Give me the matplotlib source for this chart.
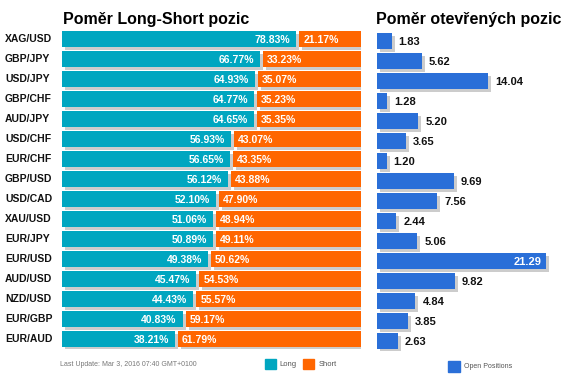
import numpy as np
import matplotlib.pyplot as plt
from matplotlib.patches import Rectangle

pairs = ['XAG/USD', 'GBP/JPY', 'USD/JPY', 'GBP/CHF', 'AUD/JPY', 'USD/CHF', 'EUR/CHF', 'GBP/USD',
         'USD/CAD', 'XAU/USD', 'EUR/JPY', 'EUR/USD', 'AUD/USD', 'NZD/USD', 'EUR/GBP', 'EUR/AUD']
long_pct = [78.83, 66.77, 64.93, 64.77, 64.65, 56.93, 56.65, 56.12,
            52.10, 51.06, 50.89, 49.38, 45.47, 44.43, 40.83, 38.21]
short_pct = [21.17, 33.23, 35.07, 35.23, 35.35, 43.07, 43.35, 43.88,
             47.90, 48.94, 49.11, 50.62, 54.53, 55.57, 59.17, 61.79]
open_pos = [1.83, 5.62, 14.04, 1.28, 5.20, 3.65, 1.20, 9.69,
            7.56, 2.44, 5.06, 21.29, 9.82, 4.84, 3.85, 2.63]

W, H = 566, 378
teal = '#00a6c0'
orange = '#ff6600'
blue = '#2a6fd8'
shadow = '#cccccc'
font = 'Liberation Sans'
plt.rcParams['font.family'] = [font, 'DejaVu Sans']

fig = plt.figure(figsize=(W / 100, H / 100), dpi=100)


def box(x0, y0, x1, y1):
    # pixel box (top-left origin) -> figure fraction rect
    return [x0 / W, 1 - y1 / H, (x1 - x0) / W, (y1 - y0) / H]


def fx(x):
    return x / W


def fy(y):
    return 1 - y / H


n = len(pairs)
y = np.arange(n)

# left chart: long / short ratio
ax1 = fig.add_axes(box(62, 29, 361, 349))
ax1.set_xlim(0, 100)
ax1.set_ylim(n - 0.5, -0.5)
ax1.axis('off')
pxu = 299 / 100.0
sx, sy = 3 / pxu, 3 / 20.0
bh = 0.8
gap = 0.5
lp = np.array(long_pct)
ax1.barh(y + sy, lp - gap, left=sx, height=bh, color=shadow, zorder=1)
ax1.barh(y + sy, 100 - lp - gap, left=lp + gap + sx, height=bh, color=shadow, zorder=1)
ax1.barh(y, lp - gap, left=0, height=bh, color=teal, zorder=2)
ax1.barh(y, 100 - lp - gap, left=lp + gap, height=bh, color=orange, zorder=2)
for i in range(n):
    ax1.text(long_pct[i] - gap - 6 / pxu, i + 0.03, '%.2f%%' % long_pct[i], color='white',
             ha='right', va='center', fontsize=7.5, fontweight='bold', zorder=3)
    ax1.text(long_pct[i] + gap + 4 / pxu, i + 0.03, '%.2f%%' % short_pct[i], color='white',
             ha='left', va='center', fontsize=7.5, fontweight='bold', zorder=3)
    fig.text(fx(5), fy(39 + 20 * i), pairs[i], ha='left', va='center',
             fontsize=7.5, fontweight='bold', color='#111111')

# right chart: open positions
ax2 = fig.add_axes(box(377, 31, 566, 351))
pxr = 169 / 21.29
ax2.set_xlim(0, 189 / pxr)
ax2.set_ylim(n - 0.5, -0.5)
ax2.axis('off')
op = np.array(open_pos)
ax2.barh(y + 3 / 20.0, op, left=3 / pxr, height=bh, color=shadow, zorder=1)
ax2.barh(y, op, height=bh, color=blue, zorder=2)
big = max(open_pos)
for i in range(n):
    if open_pos[i] == big:
        ax2.text(open_pos[i] - 4 / pxr, i + 0.03, '%.2f' % open_pos[i], color='white',
                 ha='right', va='center', fontsize=8, fontweight='bold', zorder=3)
    else:
        ax2.text(open_pos[i] + 7 / pxr, i + 0.05, '%.2f' % open_pos[i], color='#111111',
                 ha='left', va='center', fontsize=8, fontweight='bold', zorder=3)

# titles
fig.text(fx(63), fy(24), 'Poměr Long-Short pozic', fontsize=11.5, fontweight='bold',
         ha='left', va='baseline')
fig.text(fx(376), fy(24), 'Poměr otevřených pozic', fontsize=11.5, fontweight='bold',
         ha='left', va='baseline')

# footer
fig.text(fx(60), fy(364), 'Last Update: Mar 3, 2016 07:40 GMT+0100', fontsize=5,
         color='#777777', ha='left', va='center')
fig.patches.append(Rectangle((fx(265), fy(369)), 11 / W, 10 / H, color=teal,
                             transform=fig.transFigure, figure=fig))
fig.text(fx(279), fy(365), 'Long', fontsize=5.5, color='#555555', ha='left', va='center')
fig.patches.append(Rectangle((fx(303), fy(369)), 11 / W, 10 / H, color=orange,
                             transform=fig.transFigure, figure=fig))
fig.text(fx(319), fy(365), 'Short', fontsize=5.5, color='#555555', ha='left', va='center')
fig.patches.append(Rectangle((fx(448), fy(372)), 12 / W, 11 / H, color=blue,
                             transform=fig.transFigure, figure=fig))
fig.text(fx(464), fy(367), 'Open Positions', fontsize=5, color='#555555', ha='left', va='center')

fig.savefig('out.png', dpi=100)
